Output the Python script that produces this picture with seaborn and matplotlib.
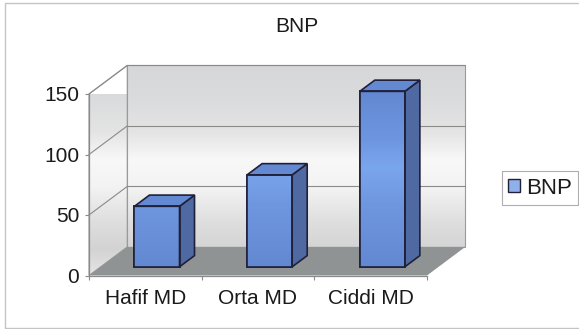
import numpy as np
import matplotlib
matplotlib.use("Agg")
import matplotlib.pyplot as plt
import matplotlib.transforms as mtransforms
from matplotlib.patches import Polygon, Rectangle, Patch
from matplotlib.colors import LinearSegmentedColormap
import seaborn as sns

# Data
categories = ["Hafif MD", "Orta MD", "Ciddi MD"]
bnp_values = [50, 76, 145]
series_name = "BNP"
y_ticks = [0, 50, 100, 150]

sns.set_theme(style="white")
plt.rcParams["font.family"] = ["Liberation Sans", "DejaVu Sans"]
TEXT = "#1a1a1a"
FS = 15

W, H, DPI = 579, 329, 100
fig = plt.figure(figsize=(W / DPI, H / DPI), dpi=DPI)
fig.patch.set_facecolor("white")

# front plane of the 3-D box, in pixels
left_px, right_px, zero_px, top_px = 89.0, 427.0, 275.5, 94.0
ax = fig.add_axes([left_px / W, (H - zero_px) / H,
                   (right_px - left_px) / W, (zero_px - top_px) / H])
ax.set_facecolor("none")

ymax = 150
ppx = (right_px - left_px) / 3.0       # pixels per category
ppy = (zero_px - top_px) / ymax        # pixels per value unit

# 3-D depth of the box and of the bars (pixels)
DX, DY = 38.3, 28.6
BDX, BDY = 15.0, 11.2
FDX, FDY = (DX - BDX) / 2, (DY - BDY) / 2
dxd, dyd = DX / ppx, DY / ppy
bdx, bdy = BDX / ppx, BDY / ppy

back_tr = mtransforms.offset_copy(ax.transData, fig=fig, x=DX, y=DY, units="dots")
front_tr = mtransforms.offset_copy(ax.transData, fig=fig, x=FDX, y=FDY, units="dots")

# wall fill: soft grey gradient, whiter in the middle band
wall_cmap = LinearSegmentedColormap.from_list("wall", [
    (0.00, "#e4e4e4"), (0.12, "#d3d3d3"), (0.25, "#dedede"),
    (0.42, "#f3f3f3"), (0.55, "#f8f8f8"), (0.68, "#e4e4e4"),
    (0.85, "#dadbdd"), (1.00, "#d6d7d9")])
grad = np.linspace(0, 1, 256).reshape(-1, 1)

back_wall = Rectangle((-0.5, 0), 3, ymax, transform=back_tr, facecolor="none",
                      edgecolor="#9a9a9a", lw=0.8, zorder=1.2, clip_on=False)
side_wall = Polygon([(-0.5, 0), (-0.5 + dxd, dyd), (-0.5 + dxd, ymax + dyd), (-0.5, ymax)],
                    closed=True, transform=ax.transData, facecolor="none",
                    edgecolor="#9a9a9a", lw=0.8, zorder=1.2, clip_on=False)
for wall in (back_wall, side_wall):
    ax.add_patch(wall)
    img = ax.imshow(grad, cmap=wall_cmap, aspect="auto", origin="lower",
                    extent=(-0.5, 2.5 + dxd, 0, ymax + dyd), zorder=1, interpolation="bilinear")
    img.set_clip_path(wall)

# grid lines on the back and side walls
for v in y_ticks[1:]:
    ax.plot([-0.5, 2.5], [v, v], transform=back_tr, color="#8a8a8a", lw=0.8,
            zorder=1.5, clip_on=False)
    ax.plot([-0.5, -0.5 + dxd], [v, v + dyd], color="#8a8a8a", lw=0.8,
            zorder=1.5, clip_on=False)

# floor
floor = Polygon([(-0.5, 0), (2.5, 0), (2.5 + dxd, dyd), (-0.5 + dxd, dyd)], closed=True,
                facecolor="#8f9393", edgecolor="none", zorder=2, clip_on=False)
ax.add_patch(floor)

# bars: seaborn draws the front faces
EDGE = "#20203a"
sns.barplot(x=categories, y=bnp_values, ax=ax, width=0.4, color="#6b90d9",
            edgecolor=EDGE, linewidth=1.2, saturation=1, zorder=3)

bar_cmap = LinearSegmentedColormap.from_list("bar", [
    (0.00, "#6288d2"), (0.35, "#6f97df"), (0.55, "#7aa6ee"),
    (0.70, "#6e96e0"), (1.00, "#6186d0")])
for p in list(ax.patches):
    if p in (floor, back_wall, side_wall):
        continue
    p.set_transform(front_tr)
    p.set_clip_on(False)
    x0, w, h = p.get_x(), p.get_width(), p.get_height()
    img = ax.imshow(grad, cmap=bar_cmap, aspect="auto", origin="lower",
                    extent=(x0, x0 + w, 0, ymax), transform=front_tr, zorder=3.1,
                    interpolation="bilinear")
    img.set_clip_path(p)
    outline = Rectangle((x0, 0), w, h, transform=front_tr, facecolor="none",
                        edgecolor=EDGE, lw=1.2, zorder=3.3, clip_on=False)
    ax.add_patch(outline)
    side = Polygon([(x0 + w, 0), (x0 + w + bdx, bdy), (x0 + w + bdx, h + bdy), (x0 + w, h)],
                   closed=True, transform=front_tr, facecolor="#4f69a3",
                   edgecolor=EDGE, lw=1.2, zorder=3.2, clip_on=False)
    top = Polygon([(x0, h), (x0 + w, h), (x0 + w + bdx, h + bdy), (x0 + bdx, h + bdy)],
                  closed=True, transform=front_tr, facecolor="#6489d3",
                  edgecolor=EDGE, lw=1.2, zorder=3.2, clip_on=False)
    ax.add_patch(side)
    ax.add_patch(top)

ax.set_xlim(-0.5, 2.5)
ax.set_ylim(0, ymax)

# axes styling
for s in ("top", "right"):
    ax.spines[s].set_visible(False)
for s in ("left", "bottom"):
    ax.spines[s].set_color("#8a8a8a")
    ax.spines[s].set_linewidth(0.9)
    ax.spines[s].set_zorder(2.5)

ax.set_yticks(y_ticks)
ax.set_yticklabels([str(t) for t in y_ticks])
ax.set_xticks(range(len(categories)))
ax.set_xticklabels(categories)
ax.set_xticks([-0.5, 0.5, 1.5, 2.5], minor=True)
ax.tick_params(axis="y", which="major", left=True, length=3, width=0.8,
               color="#8a8a8a", pad=4, labelsize=FS, labelcolor=TEXT)
ax.tick_params(axis="x", which="major", bottom=False, length=0, pad=10,
               labelsize=FS, labelcolor=TEXT)
ax.tick_params(axis="x", which="minor", bottom=True, length=3, width=0.8,
               color="#8a8a8a")
ax.set_xlabel("")
ax.set_ylabel("")
ax.grid(False)

# title
fig.text(297 / W, 1 - 26 / H, "BNP", ha="center", va="center", fontsize=FS, color=TEXT)

# legend
handle = Patch(facecolor="#8fb0e8", edgecolor=EDGE, linewidth=1.0, label=series_name)
leg = fig.legend(handles=[handle], loc="center left",
                 bbox_to_anchor=(501.5 / W, 1 - 188 / H), bbox_transform=fig.transFigure,
                 frameon=True, fancybox=False, fontsize=16, handlelength=0.55,
                 handleheight=0.55, handletextpad=0.25, borderpad=0.3, borderaxespad=0)
leg.get_frame().set_edgecolor("#9a9a9a")
leg.get_frame().set_linewidth(0.8)
for t in leg.get_texts():
    t.set_color(TEXT)

# chart area border
fig.patches.append(Rectangle((5 / W, 1 / H), 1.0, 1 - 4 / H, transform=fig.transFigure,
                             facecolor="none", edgecolor="#c4c4c4", lw=1.0, zorder=0))

fig.savefig("out.png", dpi=DPI)
